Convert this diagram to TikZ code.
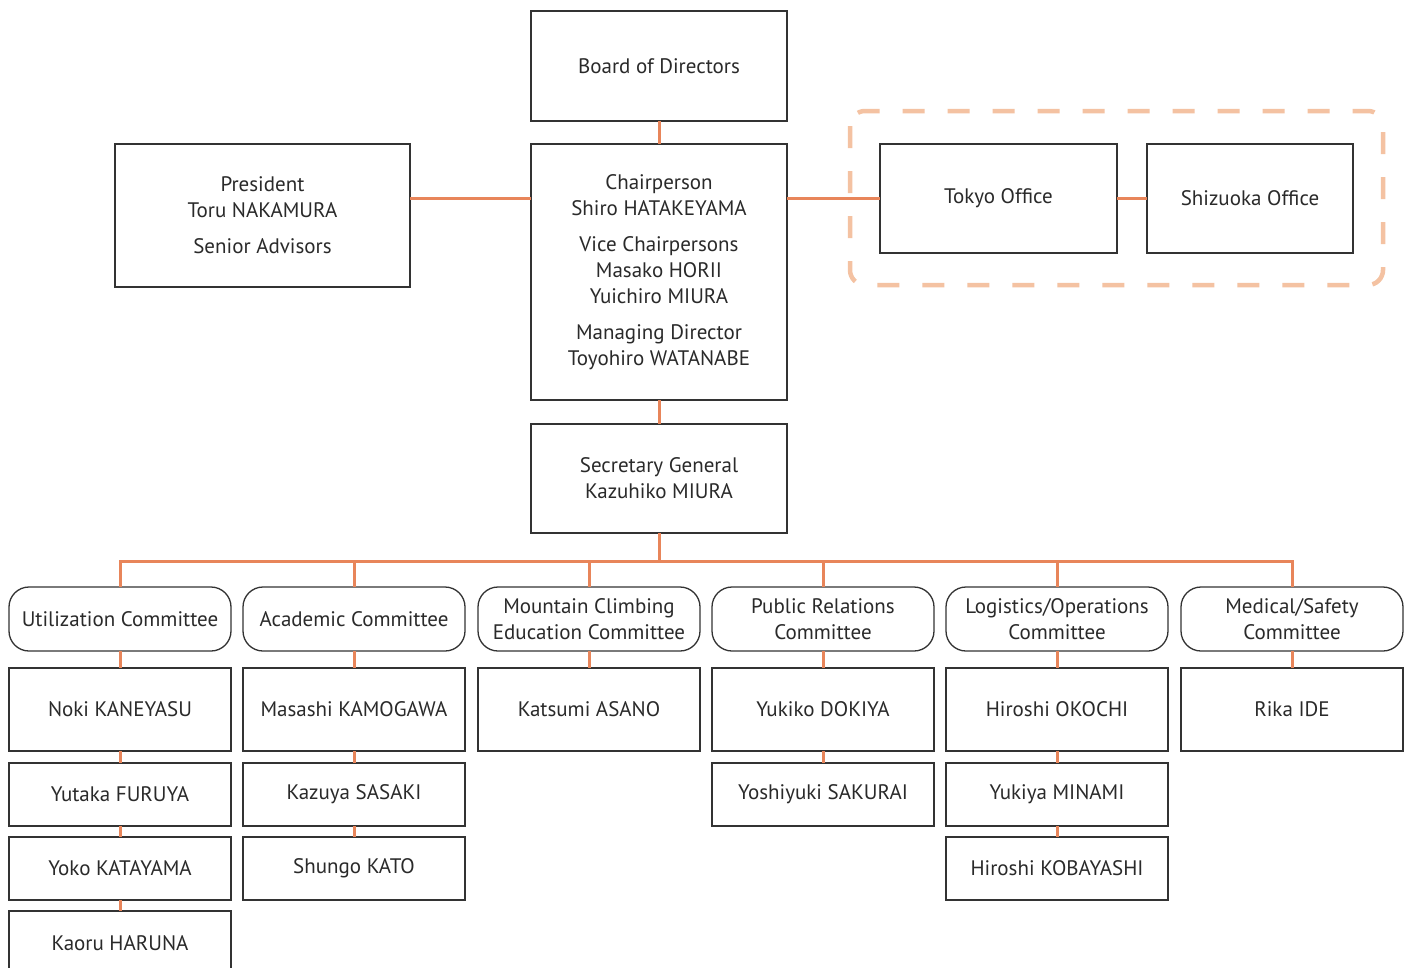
\documentclass[tikz,border=0pt]{standalone}
\usepackage{fontspec}
\setmainfont{PT Sans}
\definecolor{conn}{HTML}{E8855A}
\definecolor{dashc}{HTML}{F4C2A2}
\definecolor{boxc}{HTML}{333333}
\definecolor{txt}{HTML}{2A2A2A}
\begin{document}
\begin{tikzpicture}[x=1pt,y=-1pt,
  box/.style={draw=boxc, line width=1.3pt, fill=white, inner sep=0pt, outer sep=0pt, align=center, text=txt, font=\fontsize{21}{26}\selectfont},
  cbox/.style={box, rounded corners=20pt, minimum width=222pt, minimum height=64pt},
  pbox/.style={box, minimum width=222pt},
  link/.style={draw=conn, line width=3pt},
  grp/.style={draw=dashc, line width=4.5pt, dash pattern=on 22pt off 23pt, rounded corners=15pt}]
\useasboundingbox[fill=white] (0,0) rectangle (1411,967);
% dashed group
\draw[grp] (850,111) rectangle (1383,285);
\coordinate (bus) at (659,561);
% top nodes
\node[box, minimum width=256pt, minimum height=110pt] (board) at (659,66) {Board of Directors};
\node[box, minimum width=256pt, minimum height=256pt] (chair) at (659,272) {Chairperson\\Shiro HATAKEYAMA\\[10pt]Vice Chairpersons\\Masako HORII\\Yuichiro MIURA\\[10pt]Managing Director\\Toyohiro WATANABE};
\node[box, minimum width=295pt, minimum height=143pt] (pres) at (262.5,215.5) {President\\Toru NAKAMURA\\[10pt]Senior Advisors};
\node[box, minimum width=256pt, minimum height=109pt] (sec) at (659,478.5) {Secretary General\\Kazuhiko MIURA};
\node[box, minimum width=237pt, minimum height=109pt] (tokyo) at (998.5,198.5) {Tokyo Office};
\node[box, minimum width=206pt, minimum height=109pt] (shiz) at (1250,198.5) {Shizuoka Office};
% committees
\node[cbox] (c1) at (120,619) {Utilization Committee};
\node[cbox] (c2) at (354,619) {Academic Committee};
\node[cbox] (c3) at (589,619) {Mountain Climbing\\Education Committee};
\node[cbox] (c4) at (823,619) {Public Relations\\Committee};
\node[cbox] (c5) at (1057,619) {Logistics/Operations\\Committee};
\node[cbox] (c6) at (1292,619) {Medical/Safety\\Committee};
% members
\node[pbox, minimum height=83pt] (m11) at (120,709.5) {Noki KANEYASU};
\node[pbox, minimum height=63pt] (m12) at (120,794.5) {Yutaka FURUYA};
\node[pbox, minimum height=63pt] (m13) at (120,868.5) {Yoko KATAYAMA};
\node[pbox, minimum height=64pt] (m14) at (120,943) {Kaoru HARUNA};
\node[pbox, minimum height=83pt] (m21) at (354,709.5) {Masashi KAMOGAWA};
\node[pbox, minimum height=63pt] (m22) at (354,794.5) {Kazuya SASAKI};
\node[pbox, minimum height=63pt] (m23) at (354,868.5) {Shungo KATO};
\node[pbox, minimum height=83pt] (m31) at (589,709.5) {Katsumi ASANO};
\node[pbox, minimum height=83pt] (m41) at (823,709.5) {Yukiko DOKIYA};
\node[pbox, minimum height=63pt] (m42) at (823,794.5) {Yoshiyuki SAKURAI};
\node[pbox, minimum height=83pt] (m51) at (1057,709.5) {Hiroshi OKOCHI};
\node[pbox, minimum height=63pt] (m52) at (1057,794.5) {Yukiya MINAMI};
\node[pbox, minimum height=63pt] (m53) at (1057,868.5) {Hiroshi KOBAYASHI};
\node[pbox, minimum height=83pt] (m61) at (1292,709.5) {Rika IDE};
% connectors
\path[link] (board) -- (chair);
\path[link] (pres.east |- tokyo.center) -- (chair.west |- tokyo.center);
\path[link] (chair.east |- tokyo.center) -- (tokyo);
\path[link] (tokyo) -- (shiz);
\path[link] (chair) -- (sec);
\path[link] (sec) -- (bus);
\path[link] (c1.north) -- (c1.north |- bus) -- (c6.north |- bus) -- (c6.north);
\foreach \c in {c2,c3,c4,c5} \path[link] (\c.north) -- (\c.north |- bus);
\foreach \a/\b in {c1/m11,m11/m12,m12/m13,m13/m14,c2/m21,m21/m22,m22/m23,c3/m31,c4/m41,m41/m42,c5/m51,m51/m52,m52/m53,c6/m61}
  \path[link] (\a) -- (\b);
\end{tikzpicture}
\end{document}
